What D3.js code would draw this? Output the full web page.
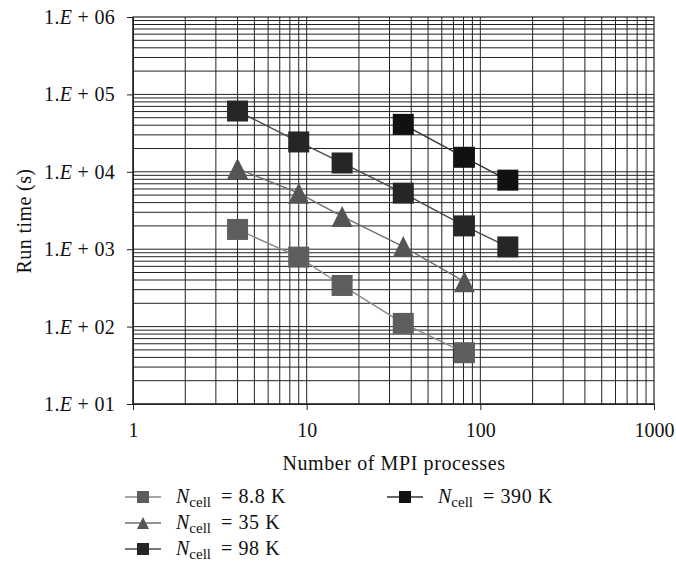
<!DOCTYPE html>
<meta charset="utf-8">
<script src="https://d3js.org/d3.v7.min.js"></script>
<style>
    body { margin: 0; background: #fff; }
    svg text { font-family: "Liberation Serif", "DejaVu Serif", serif; fill: #111; }
</style>
<body>
<div id="chart"></div>
<script>

    // series data (x = number of MPI processes, y = run time in s)
    var procs = [4, 9, 16, 36, 81, 144];
    var procs390 = [36, 81, 144];
    var time88 = [1800, 790, 340, 110, 46];
    var time35 = [11000, 5300, 2650, 1080, 380];
    var time98 = [61000, 24300, 13000, 5300, 2000, 1070];
    var time390 = [41000, 15400, 7800];

    var xTicks = [1, 10, 100, 1000];
    var yTicks = [10, 100, 1000, 10000, 100000, 1000000];
    var yTickLabels = ["01", "02", "03", "04", "05", "06"];

    var series = [
        { name: "8.8 K", xs: procs.slice(0, time88.length), ys: time88, shape: "square", fill: "#5e5e5e", line: "#8a8a8a" },
        { name: "35 K", xs: procs.slice(0, time35.length), ys: time35, shape: "triangle", fill: "#555", line: "#6e6e6e" },
        { name: "98 K", xs: procs, ys: time98, shape: "square", fill: "#262626", line: "#4a4a4a" },
        { name: "390 K", xs: procs390, ys: time390, shape: "square", fill: "#111", line: "#333" }
    ];

    var width = 676, height = 568;
    var margin = { top: 17, right: 22, bottom: 164, left: 133 };
    var w = width - margin.left - margin.right,
        h = height - margin.top - margin.bottom;

    var svg = d3.select("#chart").append("svg")
        .attr("width", width)
        .attr("height", height);

    var g = svg.append("g")
        .attr("transform", "translate(" + margin.left + "," + margin.top + ")");

    var x = d3.scaleLog().domain([1, 1000]).range([0, w]);
    var y = d3.scaleLog().domain([10, 1000000]).range([h, 0]);

    // grid lines at every log step
    var xGrid = [], yGrid = [];
    for (var e = 0; e < 3; e++) for (var m = 1; m <= 9; m++) xGrid.push(m * Math.pow(10, e));
    for (var e = 1; e < 6; e++) for (var m = 1; m <= 9; m++) yGrid.push(m * Math.pow(10, e));

    g.append("g").selectAll("line").data(xGrid).enter().append("line")
        .attr("x1", function (d) { return x(d); })
        .attr("x2", function (d) { return x(d); })
        .attr("y1", 0).attr("y2", h)
        .attr("stroke", "#222").attr("stroke-width", 1);

    g.append("g").selectAll("line").data(yGrid).enter().append("line")
        .attr("y1", function (d) { return y(d); })
        .attr("y2", function (d) { return y(d); })
        .attr("x1", 0).attr("x2", w)
        .attr("stroke", "#222").attr("stroke-width", 1);

    g.append("rect")
        .attr("width", w).attr("height", h)
        .attr("fill", "none").attr("stroke", "#222").attr("stroke-width", 1.2);

    // axes
    var yAxis = g.append("g")
        .call(d3.axisLeft(y).tickValues(yTicks).tickSize(6).tickFormat(""));
    yAxis.select(".domain").attr("stroke", "#222");
    yAxis.selectAll(".tick line").attr("stroke", "#222");
    yAxis.selectAll(".tick").each(function (d, i) {
        var t = d3.select(this).append("text")
            .attr("x", -18).attr("dy", "0.32em")
            .attr("text-anchor", "end")
            .attr("font-size", "20px")
            .attr("letter-spacing", "0.3px");
        t.append("tspan").text("1.");
        t.append("tspan").attr("font-style", "italic").text("E");
        t.append("tspan").text(" + " + yTickLabels[i]);
    });

    var xAxis = g.append("g")
        .attr("transform", "translate(0," + h + ")")
        .call(d3.axisBottom(x).tickValues(xTicks).tickSize(6).tickFormat(d3.format("d")));
    xAxis.select(".domain").attr("stroke", "#222");
    xAxis.selectAll(".tick line").attr("stroke", "#222");
    xAxis.selectAll(".tick text")
        .attr("y", 33).attr("dy", null)
        .attr("font-size", "20px").attr("font-family", "Liberation Serif");

    // axis titles
    svg.append("text")
        .attr("transform", "translate(31,221) rotate(-90)")
        .attr("text-anchor", "middle")
        .attr("font-size", "20px")
        .attr("letter-spacing", "0.4px")
        .text("Run time (s)");

    svg.append("text")
        .attr("x", 394).attr("y", 470)
        .attr("text-anchor", "middle")
        .attr("font-size", "20px")
        .attr("letter-spacing", "0.6px")
        .text("Number of MPI processes");

    // marker shapes
    function marker(sel, shape, cx, cy, size, fill) {
        if (shape === "square") {
            sel.append("rect")
                .attr("x", cx - size / 2).attr("y", cy - size / 2)
                .attr("width", size).attr("height", size)
                .attr("fill", fill);
        } else {
            sel.append("path")
                .attr("d", "M" + cx + "," + (cy - size / 2) +
                    "L" + (cx + size / 2) + "," + (cy + size / 2) +
                    "L" + (cx - size / 2) + "," + (cy + size / 2) + "Z")
                .attr("fill", fill);
        }
    }

    var line = d3.line()
        .x(function (d) { return x(d[0]); })
        .y(function (d) { return y(d[1]); });

    series.forEach(function (s) {
        var pts = s.xs.map(function (v, i) { return [v, s.ys[i]]; });
        g.append("path")
            .datum(pts)
            .attr("d", line)
            .attr("fill", "none")
            .attr("stroke", s.line)
            .attr("stroke-width", 1.4);
    });
    series.forEach(function (s) {
        var mg = g.append("g");
        s.xs.forEach(function (v, i) {
            marker(mg, s.shape, x(v), y(s.ys[i]), 21, s.fill);
        });
    });

    // legend
    var legendPos = [[125, 503], [125, 529], [125, 555], [387, 503]];
    series.forEach(function (s, i) {
        var lg = svg.append("g")
            .attr("transform", "translate(" + legendPos[i][0] + "," + legendPos[i][1] + ")");
        lg.append("line")
            .attr("x1", 0).attr("x2", 36).attr("y1", -6).attr("y2", -6)
            .attr("stroke", s.line).attr("stroke-width", 1.4);
        marker(lg, s.shape, 18, -6, 12, s.fill);
        var t = lg.append("text")
            .attr("x", 51).attr("y", 0)
            .attr("font-size", "20px");
        t.append("tspan").attr("font-style", "italic").text("N");
        t.append("tspan").attr("font-size", "15px").attr("dy", 4).text("cell");
        t.append("tspan").attr("dy", -4).attr("dx", 10)
            .attr("letter-spacing", "0.6px").text("= " + s.name);
    });

</script>
</body>
